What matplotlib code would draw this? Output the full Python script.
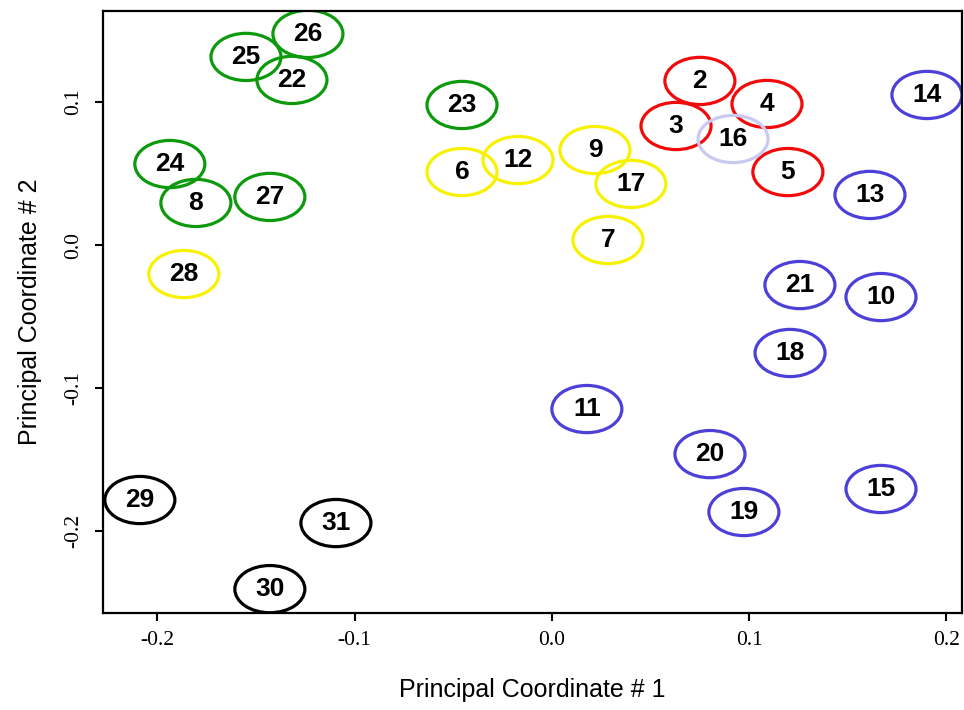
import matplotlib
matplotlib.use('Agg')
import matplotlib.pyplot as plt
from matplotlib.patches import Ellipse

# sample labels, PCoA coordinates and group colour
labels = ['26', '25', '22', '23', '24', '8', '27',
          '28', '6', '12', '9', '17', '7',
          '2', '4', '3', '5', '16',
          '14', '13', '21', '10', '18', '11', '20', '19', '15',
          '29', '31', '30']
pc1 = [-0.1237, -0.1551, -0.1318, -0.0456, -0.1937, -0.1805, -0.1430,
       -0.1866, -0.0456, -0.0172, 0.0218, 0.0400, 0.0284,
       0.0750, 0.1090, 0.0629, 0.1196, 0.0918,
       0.1901, 0.1612, 0.1257, 0.1668, 0.1207, 0.0177, 0.0801, 0.0973, 0.1668,
       -0.2089, -0.1095, -0.1430]
pc2 = [0.1476, 0.1315, 0.1154, 0.0979, 0.0566, 0.0294, 0.0336,
       -0.0203, 0.0510, 0.0594, 0.0664, 0.0427, 0.0035,
       0.1147, 0.0986, 0.0832, 0.0510, 0.0741,
       0.1049, 0.0350, -0.0280, -0.0364, -0.0755, -0.1147, -0.1462, -0.1867, -0.1706,
       -0.1783, -0.1944, -0.2406]
groups = ['green'] * 7 + ['yellow'] * 6 + ['red'] * 4 + ['pale'] + \
         ['blue'] * 9 + ['black'] * 3

colors = {
    'green': '#0c9a0c',
    'yellow': '#f7f200',
    'red': '#f20a0a',
    'pale': '#c9c9f2',
    'blue': '#4c40d8',
    'black': '#000000',
}

fig = plt.figure(figsize=(9.64, 7.10), dpi=100)
ax = fig.add_axes([0.1068, 0.1366, 0.8912, 0.8479])

ax.set_xlim(-0.2276, 0.2079)
ax.set_ylim(-0.2573, 0.1636)

for lab, x, y, g in zip(labels, pc1, pc2, groups):
    ax.add_patch(Ellipse((x, y), 0.0355, 0.0330, facecolor='none',
                         edgecolor=colors[g], linewidth=2.3, zorder=2))
    ax.text(x, y, lab, ha='center', va='center', fontsize=19,
            fontweight='bold', family='Liberation Sans', zorder=3)

ax.set_xticks([-0.2, -0.1, 0.0, 0.1, 0.2])
ax.set_yticks([-0.2, -0.1, 0.0, 0.1])
ax.set_xticklabels(['-0.2', '-0.1', '0.0', '0.1', '0.2'],
                   family='Liberation Serif', fontsize=15.5)
ax.set_yticklabels(['-0.2', '-0.1', '0.0', '0.1'],
                   family='Liberation Serif', fontsize=15.5,
                   rotation=90, va='center')
ax.tick_params(direction='out', length=6, width=1.5, pad=7)
ax.tick_params(axis='y', pad=8)
for sp in ax.spines.values():
    sp.set_linewidth(1.6)

ax.set_xlabel('Principal Coordinate # 1', family='Liberation Sans',
              fontsize=18, labelpad=20)
ax.set_ylabel('Principal Coordinate # 2', family='Liberation Sans',
              fontsize=18, labelpad=16)

fig.savefig('out.png', dpi=100, facecolor='white')
